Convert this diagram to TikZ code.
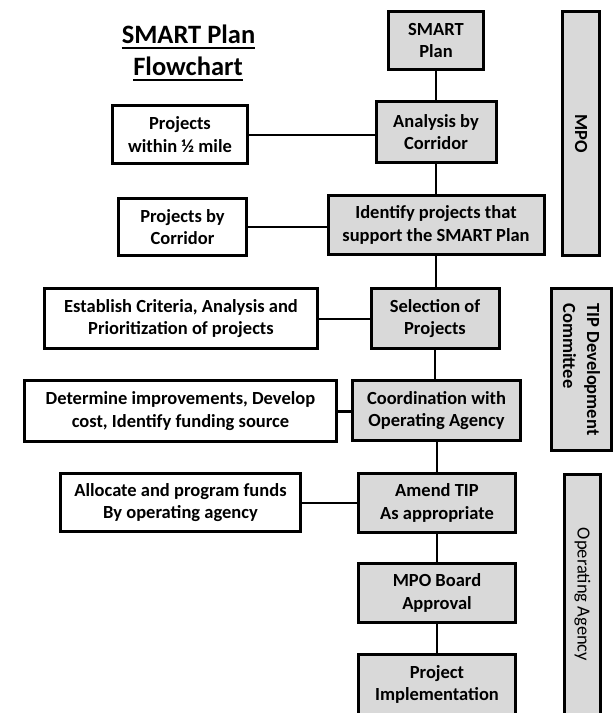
\documentclass[tikz,border=0pt]{standalone}
\usepackage{fontspec}
\setmainfont{Carlito}
\definecolor{boxgray}{HTML}{D9D9D9}
\begin{document}
\begin{tikzpicture}[x=1pt,y=-1pt,
  box/.style={draw=black, line width=3pt, align=center, inner sep=0pt,
    font=\fontsize{18.5}{22.5}\selectfont\bfseries},
  mainbox/.style={box, fill=boxgray},
  sidebox/.style={box, fill=white},
  barbox/.style={draw=black, line width=3pt, fill=boxgray, inner sep=0pt},
  bartext/.style={rotate=-90, align=left, inner sep=0pt},
  titletext/.style={inner sep=0pt, anchor=base, font=\fontsize{26.5}{32}\selectfont\bfseries},
  link/.style={line width=2pt}]
\useasboundingbox (0,0) rectangle (614,713);
\clip (0,0) rectangle (614,713);

% title
\node[titletext] (t1) at (188.5,43) {SMART Plan};
\node[titletext] (t2) at (188,75) {Flowchart};
\draw[line width=1.8pt] ([yshift=-5pt]t1.base west) -- ([yshift=-5pt]t1.base east);
\draw[line width=1.8pt] ([yshift=-5pt]t2.base west) -- ([yshift=-5pt]t2.base east);

% main column
\node[mainbox, minimum width=95pt,  minimum height=58pt] (smart) at (436,40.5) {SMART\\Plan};
\node[mainbox, minimum width=120pt, minimum height=61pt] (anal)  at (436,132) {Analysis by\\Corridor};
\node[mainbox, minimum width=216pt, minimum height=59pt] (ident) at (436,225) {Identify projects that\\support the SMART Plan};
\node[mainbox, minimum width=128pt, minimum height=60pt] (sel)   at (435,318.5) {Selection of\\Projects};
\node[mainbox, minimum width=168pt, minimum height=60pt] (coord) at (436.5,410.5) {Coordination with\\Operating Agency};
\node[mainbox, minimum width=157pt, minimum height=59pt] (amend) at (437,503) {Amend TIP\\As appropriate};
\node[mainbox, minimum width=157pt, minimum height=59pt] (board) at (437,593) {MPO Board\\Approval};
\node[mainbox, minimum width=157pt, minimum height=60pt] (impl)  at (437,684.5) {Project\\Implementation};

% side boxes
\node[sidebox, minimum width=135pt, minimum height=58pt] (within) at (180,134.5) {Projects\\within ½ mile};
\node[sidebox, minimum width=128pt, minimum height=57pt] (bycorr) at (182.5,227) {Projects by\\Corridor};
\node[sidebox, minimum width=273pt, minimum height=60pt] (crit)   at (181,318.5) {Establish Criteria, Analysis and\\Prioritization of projects};
\node[sidebox, minimum width=312pt, minimum height=61pt] (determ) at (180.5,411) {Determine improvements, Develop\\cost, Identify funding source};
\node[sidebox, minimum width=240pt, minimum height=58pt] (alloc)  at (180.5,502.5) {Allocate and program funds\\By operating agency};

% right bars
\node[barbox, minimum width=37pt, minimum height=244pt] (mpo) at (581,133.5) {};
\node[bartext, font=\fontsize{18.5}{22.5}\selectfont\bfseries] (mpotext) at (mpo.center) {MPO};
\node[barbox, minimum width=60pt, minimum height=162pt] (tip) at (581.5,369.5) {};
\node[bartext, font=\fontsize{18.5}{24}\selectfont\bfseries] (tiptext) at (tip.center) {TIP Development\\Committee};
\node[barbox, minimum width=36pt, minimum height=240pt] (opag) at (582.5,594.5) {};
\node[bartext, font=\fontsize{18.5}{22.5}\selectfont] (opagtext) at (opag.center) {Operating Agency};

% vertical connectors
\draw[link] (smart.south) -- (smart.south |- anal.north);
\draw[link] (anal.south) -- (anal.south |- ident.north);
\draw[link] (ident.south) -- (ident.south |- sel.north);
\draw[link] (sel.south) -- (sel.south |- coord.north);
\draw[link] (coord.south) -- (coord.south |- amend.north);
\draw[link] (amend.south) -- (amend.south |- board.north);
\draw[link] (board.south) -- (board.south |- impl.north);

% horizontal connectors
\draw[link] (within.east) -- (within.east -| anal.west);
\draw[link] (bycorr.east) -- (bycorr.east -| ident.west);
\draw[link] (crit.east) -- (crit.east -| sel.west);
\draw[line width=3pt] (determ.east) -- (determ.east -| coord.west);
\draw[link] (alloc.east) -- (alloc.east -| amend.west);
\end{tikzpicture}
\end{document}
